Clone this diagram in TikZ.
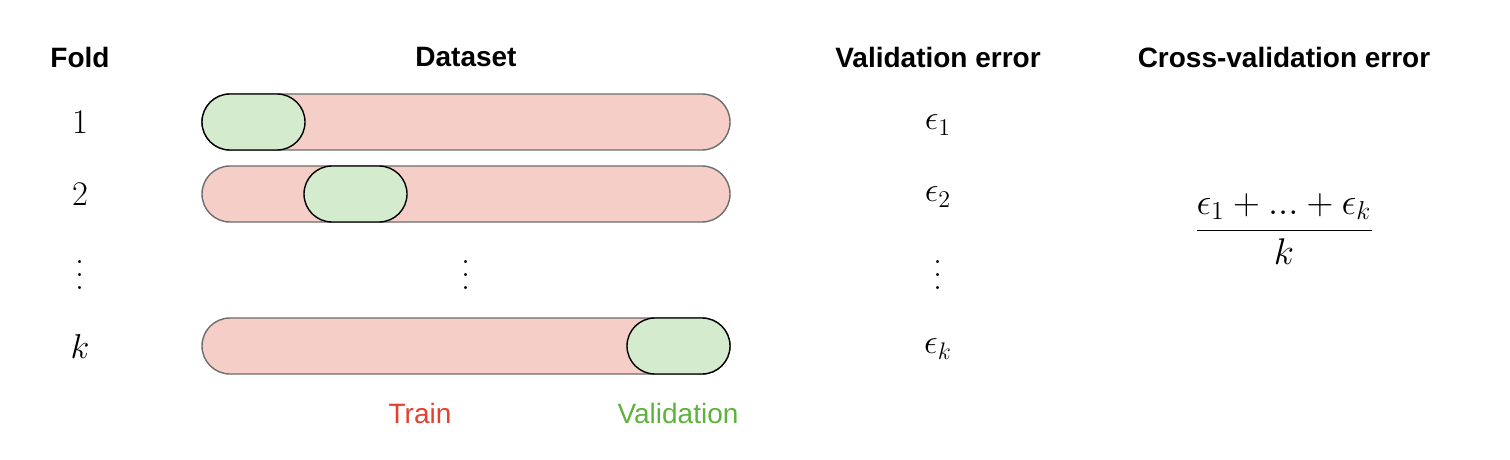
\documentclass[tikz,border=0pt]{standalone}
\usepackage{fontspec}
\newfontfamily\headfont{Liberation Sans}
\usetikzlibrary{positioning}
\definecolor{trainfill}{HTML}{F5CEC7}
\definecolor{valfill}{HTML}{D5EBCD}
\definecolor{trainred}{HTML}{E2412D}
\definecolor{valgreen}{HTML}{5DB33C}
\newcommand{\tallvdots}{\vbox{\baselineskip=6.4pt\lineskiplimit=0pt\hbox{.}\hbox{.}\hbox{.}}}
\begin{document}
\begin{tikzpicture}[x=0.5pt, y=-0.5pt,
		head/.style={font=\headfont\fontsize{14}{17}\selectfont\bfseries},
		lbl/.style={font=\headfont\fontsize{14}{17}\selectfont},
		num/.style={font=\fontsize{18}{21}\selectfont, inner sep=0pt}]
		\useasboundingbox (0,0) rectangle (1510,460);
		
		\node[head] (fold) at (80,57) {Fold};
		\node[head] (data) at (466,57) {Dataset};
		\node[head] (verr) at (938,57) {Validation error};
		\node[head] (cverr) at (1284,57) {Cross-validation error};
		
		\foreach \y/\vx in {122/202, 194/304, 346/627}
		{
			\draw[draw=gray!85!black, line width=0.7pt, fill=trainfill, rounded corners=14pt] (202, \y - 28) rectangle (730, \y + 28);
			\draw[line width=0.7pt, fill=valfill, rounded corners=14pt] (\vx, \y - 28) rectangle (\vx + 103, \y + 28);
		}
		\foreach \y/\t in {122/1, 194/2, 346/k}
		{
			\node[num] (f\t) at (80, \y) {$\t$};
			\node[num] (e\t) at (938, \y + 3) {$\epsilon_\t$};
		}
		\node[num] (fdots) at (80, 275) {\tallvdots};
		\node[num] (ddots) at (466, 275) {\tallvdots};
		\node[num] (edots) at (938, 275) {\tallvdots};
		
		\node[num, scale=1.075] (cv) at (1284, 229) {$\displaystyle\frac{\epsilon_1 + ... + \epsilon_k}{k}$};
		
		\node[lbl, text=trainred] (train) at (420, 413) {Train};
		\node[lbl, text=valgreen] (val) at (678, 413) {Validation};
	\end{tikzpicture}
\end{document}
